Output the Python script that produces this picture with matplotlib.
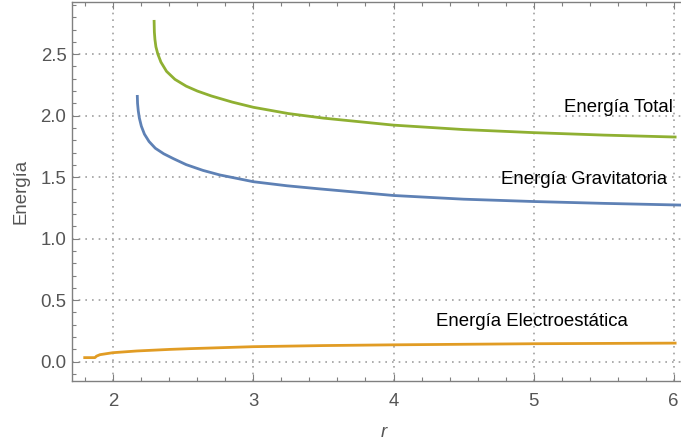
import numpy as np
import matplotlib.pyplot as plt
from matplotlib.ticker import MultipleLocator

plt.rcParams['font.family'] = ['Liberation Sans', 'DejaVu Sans']

# Energía Total (verde)
r_total = [2.291, 2.293, 2.297, 2.304, 2.318, 2.340, 2.380, 2.440, 2.520, 2.600,
           2.700, 2.850, 3.000, 3.250, 3.500, 4.000, 4.500, 5.000, 5.500, 6.020]
e_total = [2.778, 2.680, 2.620, 2.560, 2.500, 2.435, 2.360, 2.295, 2.240, 2.200,
           2.160, 2.110, 2.068, 2.017, 1.980, 1.923, 1.887, 1.862, 1.842, 1.826]

# Energía Gravitatoria (azul)
r_grav = [2.171, 2.173, 2.178, 2.186, 2.200, 2.222, 2.255, 2.300, 2.360, 2.430,
          2.520, 2.640, 2.760, 3.000, 3.240, 3.480, 4.000, 4.500, 5.000, 5.500, 6.060]
e_grav = [2.168, 2.100, 2.040, 1.980, 1.915, 1.850, 1.790, 1.735, 1.690, 1.650,
          1.602, 1.555, 1.518, 1.463, 1.430, 1.404, 1.351, 1.321, 1.302, 1.287, 1.273]

# Energía Electroestática (naranja)
r_elec = [1.786, 1.869, 1.880, 1.905, 1.996, 2.167, 2.405, 2.548, 3.0, 3.5,
          4.0, 5.0, 6.02]
e_elec = [0.033, 0.033, 0.045, 0.057, 0.073, 0.087, 0.100, 0.106, 0.122, 0.131,
          0.137, 0.146, 0.151]

labels = ["Energía Total", "Energía Gravitatoria", "Energía Electroestática"]

blue = '#5E81B5'
orange = '#E19C24'
green = '#8FB032'
frame_col = '#808080'
text_col = '#555555'

fig = plt.figure(figsize=(6.81, 4.44), dpi=100)
ax = fig.add_axes([0.1057, 0.1419, 0.8943, 0.8536])

ax.plot(r_grav, e_grav, color=blue, lw=2.0, solid_capstyle='butt')
ax.plot(r_elec, e_elec, color=orange, lw=2.0, solid_capstyle='butt')
ax.plot(r_total, e_total, color=green, lw=2.0, solid_capstyle='butt')

ax.text(5.995, 2.07, labels[0], ha='right', va='center', fontsize=13.4, color='black')
ax.text(5.953, 1.477, labels[1], ha='right', va='center', fontsize=13.4, color='black')
ax.text(4.99, 0.33, labels[2], ha='center', va='center', fontsize=13.4, color='black')

ax.set_xlim(1.705, 6.052)
ax.set_ylim(-0.157, 2.924)

ax.xaxis.set_major_locator(MultipleLocator(1))
ax.xaxis.set_minor_locator(MultipleLocator(0.2))
ax.yaxis.set_major_locator(MultipleLocator(0.5))
ax.yaxis.set_minor_locator(MultipleLocator(0.1))
ax.yaxis.set_major_formatter(plt.FormatStrFormatter('%.1f'))

ax.grid(True, which='major', linestyle=(0, (1, 3)), color='#a0a0a0', lw=1.2)

ax.tick_params(which='both', direction='in', color=frame_col, top=True, right=False,
               labelsize=13.4, labelcolor=text_col, width=0.8)
ax.tick_params(which='major', length=5)
ax.tick_params(which='minor', length=3)
ax.tick_params(axis='x', which='major', pad=9)
ax.tick_params(axis='y', which='major', pad=4)

for side in ['left', 'bottom', 'top']:
    ax.spines[side].set_color(frame_col)
    ax.spines[side].set_linewidth(1.0)
ax.spines['right'].set_visible(False)

ax.set_ylabel('Energía', fontsize=13.4, color=text_col)
ax.yaxis.set_label_coords(-0.069, 0.5)
ax.set_xlabel('r', fontsize=13.4, color=text_col, style='italic')
ax.xaxis.set_label_coords(0.512, -0.113)

fig.savefig('out.png', dpi=100)
